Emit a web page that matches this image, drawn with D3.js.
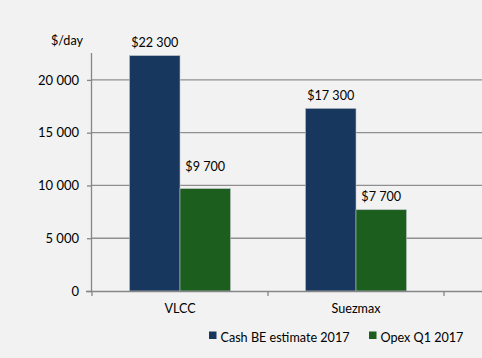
<!DOCTYPE html>
<html><head><meta charset="utf-8">
<script src="https://cdn.jsdelivr.net/npm/d3@7"></script>
<style>html,body{margin:0;padding:0;background:#f2f2f2;}svg{display:block;}</style>
</head><body>
<svg id="c" width="482" height="358"></svg>
<script>
const categories = ["VLCC", "Suezmax"];
const seriesNames = ["Cash BE estimate 2017", "Opex Q1 2017"];
const cashBE = [22300, 17300];
const opex = [9700, 7700];
const valueLabels = [["$22 300", "$17 300"], ["$9 700", "$7 700"]];
const yTicks = [0, 5000, 10000, 15000, 20000];
const yTickLabels = ["0", "5 000", "10 000", "15 000", "20 000"];
const colors = ["#18375f", "#1c5e1e"];

const svg = d3.select("#c");
const font = "Lato, 'Open Sans', sans-serif";
const fs = 12.6;
const pLeft = 92, pBottom = 291, pTop = 53;
svg.append("rect").attr("width", 482).attr("height", 358).attr("fill", "#f2f2f2");

const x0 = d3.scaleBand().domain(categories.concat(["_"])).range([pLeft, pLeft + 176 * 3]).paddingInner(0).paddingOuter(0);
const y = d3.scaleLinear().domain([0, 22550]).range([pBottom, pTop]);
const x1 = d3.scaleBand().domain([0, 1]).range([0, x0.bandwidth()]).paddingInner(0).paddingOuter(0.743);

// gridlines
svg.append("g").selectAll("line").data(yTicks.filter(d => d > 0)).join("line")
  .attr("x1", pLeft).attr("x2", 482).attr("y1", d => y(d)).attr("y2", d => y(d))
  .attr("stroke", "#8f8f8f").attr("stroke-width", 1.3);

// y axis
const yAxis = d3.axisLeft(y).tickValues(yTicks).tickFormat((d, i) => yTickLabels[i]).tickSize(5).tickPadding(8);
const gy = svg.append("g").attr("transform", `translate(${pLeft},0)`).call(yAxis);
gy.select(".domain").attr("stroke", "#868686").attr("stroke-width", 1.3).attr("d", `M-0.5,${pTop}V${pBottom}`);
gy.selectAll(".tick line").attr("stroke", "#868686").attr("stroke-width", 1.3);
gy.selectAll("text").attr("font-family", font).attr("font-size", 13).attr("fill", "#000");

// bars
const series = [cashBE, opex];
series.forEach((vals, s) => {
  svg.append("g").selectAll("rect").data(vals).join("rect")
    .attr("x", (d, i) => x0(categories[i]) + x1(s))
    .attr("width", x1.bandwidth())
    .attr("y", d => y(d))
    .attr("height", d => pBottom - y(d))
    .attr("fill", colors[s])
    .attr("stroke", "#b8c0c8").attr("stroke-width", 0.6);
  svg.append("g").selectAll("text").data(vals).join("text")
    .attr("x", (d, i) => x0(categories[i]) + x1(s) + x1.bandwidth() / 2)
    .attr("y", (d, i) => y(d) - ((s === 1 && i === 0) ? 18 : 8.5))
    .attr("text-anchor", "middle")
    .attr("font-family", font).attr("font-size", fs).attr("fill", "#000")
    .text((d, i) => valueLabels[s][i]);
});

// x axis
const gx = svg.append("g").attr("transform", `translate(0,${pBottom})`);
gx.append("line").attr("x1", pLeft - 6).attr("x2", 482).attr("y1", 0.5).attr("y2", 0.5).attr("stroke", "#868686").attr("stroke-width", 1.5);
gx.selectAll("line.tk").data([0, 1, 2]).join("line").attr("class", "tk")
  .attr("x1", i => pLeft + i * x0.bandwidth()).attr("x2", i => pLeft + i * x0.bandwidth())
  .attr("y1", 0).attr("y2", 5).attr("stroke", "#868686").attr("stroke-width", 1.3);
gx.selectAll("text").data(categories).join("text")
  .attr("x", d => x0(d) + x0.bandwidth() / 2).attr("y", 22)
  .attr("text-anchor", "middle").attr("font-family", font).attr("font-size", fs).attr("fill", "#000")
  .text(d => d);

// unit label
svg.append("text").attr("x", 67).attr("y", 45).attr("text-anchor", "middle")
  .attr("font-family", font).attr("font-size", fs).attr("fill", "#000").text("$/day");

// legend
const legX = [209, 369];
seriesNames.forEach((n, s) => {
  svg.append("rect").attr("x", legX[s]).attr("y", 331.5).attr("width", 7.5).attr("height", 7.5).attr("fill", colors[s]);
  svg.append("text").attr("x", legX[s] + 11.5).attr("y", 341.5).attr("font-family", font).attr("font-size", fs).attr("fill", "#000").text(n);
});
</script>
</body></html>
